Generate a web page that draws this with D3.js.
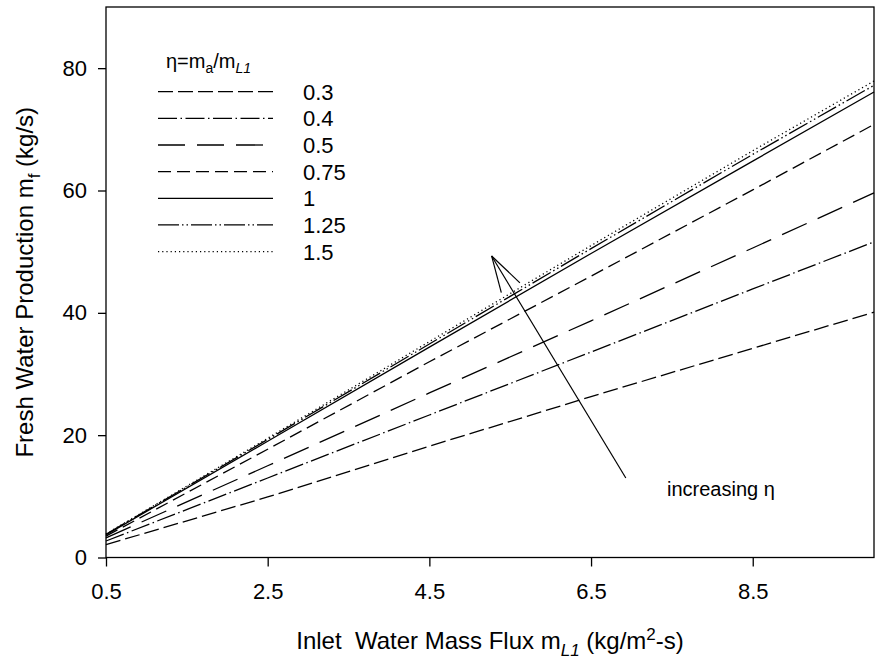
<!DOCTYPE html>
<html>
<head>
<meta charset="utf-8">
<script src="https://cdn.jsdelivr.net/npm/d3@7"></script>
<style>
  html, body { margin: 0; padding: 0; background: #fff; }
  svg { display: block; font-family: "Liberation Sans", Arial, sans-serif; }
</style>
</head>
<body>
<svg id="chart" width="878" height="661"></svg>
<script>
// Inlet water mass flux (kg/m2-s) at which production was sampled
const massFlux = [0.5, 2.5, 4.5, 6.5, 8.5, 10];

// Air-to-water ratio values, one curve each
const etaLabels = ["0.3", "0.4", "0.5", "0.75", "1", "1.25", "1.5"];

// Fresh water production (kg/s) for each ratio
const prod03  = [2.1,  9.9, 18.2, 26.3, 34.2, 40.1];
const prod04  = [2.7, 13.0, 23.3, 33.6, 43.9, 51.6];
const prod05  = [3.2, 15.0, 26.9, 38.7, 50.6, 59.6];
const prod075 = [3.5, 17.7, 32.0, 46.0, 60.1, 70.8];
const prod1   = [3.7, 19.0, 34.4, 49.7, 64.8, 76.1];
const prod125 = [3.8, 19.3, 34.9, 50.5, 65.9, 77.2];
const prod15  = [3.85, 19.5, 35.3, 51.0, 66.5, 77.9];

const xTicks = [0.5, 2.5, 4.5, 6.5, 8.5];
const yTicks = [0, 20, 40, 60, 80];

// Line styles per curve
const dashes = [
  "15,5",
  "19,3.5,1.5,3.5",
  "27,12",
  "13,6",
  null,
  "21,3,1.5,3,1.5,3",
  "1.2,3"
];

const series = [prod03, prod04, prod05, prod075, prod1, prod125, prod15];

const svg = d3.select("#chart");
const x = d3.scaleLinear().domain([0.5, 10]).range([106, 874]);
const y = d3.scaleLinear().domain([0, 90]).range([557.5, 7]);

// Frame
svg.append("rect")
  .attr("x", x(0.5)).attr("y", y(90))
  .attr("width", x(10) - x(0.5)).attr("height", y(0) - y(90))
  .attr("fill", "none").attr("stroke", "#000").attr("stroke-width", 1.3);

// Axes
const xAxis = svg.append("g")
  .attr("transform", `translate(0,${y(0)})`)
  .call(d3.axisBottom(x).tickValues(xTicks).tickSize(9).tickPadding(17)
        .tickFormat(d3.format(".1f")));
const yAxis = svg.append("g")
  .attr("transform", `translate(${x(0.5)},0)`)
  .call(d3.axisLeft(y).tickValues(yTicks).tickSize(8).tickPadding(11)
        .tickFormat(d3.format("d")));
[xAxis, yAxis].forEach(g => {
  g.select(".domain").remove();
  g.selectAll("line").attr("stroke", "#000").attr("stroke-width", 1.3);
  g.selectAll("text").attr("fill", "#000")
    .style("font-size", "22px")
    .style("font-family", "'Liberation Sans', Arial, sans-serif");
});

// Curves
const line = d3.line()
  .x((d, i) => x(massFlux[i]))
  .y(d => y(d));

series.forEach((s, k) => {
  svg.append("path")
    .datum(s)
    .attr("d", line)
    .attr("fill", "none")
    .attr("stroke", "#000")
    .attr("stroke-width", 1.3)
    .attr("stroke-dasharray", dashes[k]);
});

// Legend
const legend = svg.append("g");
const lt = legend.append("text")
  .attr("x", 166).attr("y", 68)
  .style("font-size", "20px");
lt.append("tspan").text("η=m");
lt.append("tspan").attr("dy", 5).style("font-size", "14px").text("a");
lt.append("tspan").attr("dy", -5).text("/m");
lt.append("tspan").attr("dy", 5).style("font-size", "14px")
  .style("font-style", "italic").text("L1");

etaLabels.forEach((lab, k) => {
  const ly = 91.7 + k * 26.65;
  legend.append("line")
    .attr("x1", 158).attr("x2", 273)
    .attr("y1", ly).attr("y2", ly)
    .attr("stroke", "#000").attr("stroke-width", 1.3)
    .attr("stroke-dasharray", dashes[k]);
  legend.append("text")
    .attr("x", 303).attr("y", ly).attr("dy", "0.36em")
    .style("font-size", "22px").text(lab);
});

// Annotation arrow pointing toward higher ratios
const apex = [5.27, 49.3];
const arrowEnds = [[5.39, 43.3], [5.62, 44.9], [6.93, 13.0]];
arrowEnds.forEach(e => {
  svg.append("line")
    .attr("x1", x(apex[0])).attr("y1", y(apex[1]))
    .attr("x2", x(e[0])).attr("y2", y(e[1]))
    .attr("stroke", "#000").attr("stroke-width", 1.2);
});
svg.append("text")
  .attr("x", 667).attr("y", 496)
  .style("font-size", "20px")
  .text("increasing η");

// Axis titles
const xt = svg.append("text")
  .attr("x", (x(0.5) + x(10)) / 2).attr("y", 649)
  .attr("text-anchor", "middle")
  .attr("xml:space", "preserve")
  .style("font-size", "24px");
xt.append("tspan").text("Inlet  Water Mass Flux m");
xt.append("tspan").attr("dy", 7).style("font-size", "17px")
  .style("font-style", "italic").text("L1");
xt.append("tspan").attr("dy", -7).text(" (kg/m");
xt.append("tspan").attr("dy", -9).style("font-size", "17px").text("2");
xt.append("tspan").attr("dy", 9).text("-s)");

const yt = svg.append("text")
  .attr("transform", `translate(33,${(y(0) + y(90)) / 2}) rotate(-90)`)
  .attr("text-anchor", "middle")
  .style("font-size", "24px");
yt.append("tspan").text("Fresh Water Production m");
yt.append("tspan").attr("dy", 7).style("font-size", "17px").text("f");
yt.append("tspan").attr("dy", -7).text(" (kg/s)");
</script>
</body>
</html>
